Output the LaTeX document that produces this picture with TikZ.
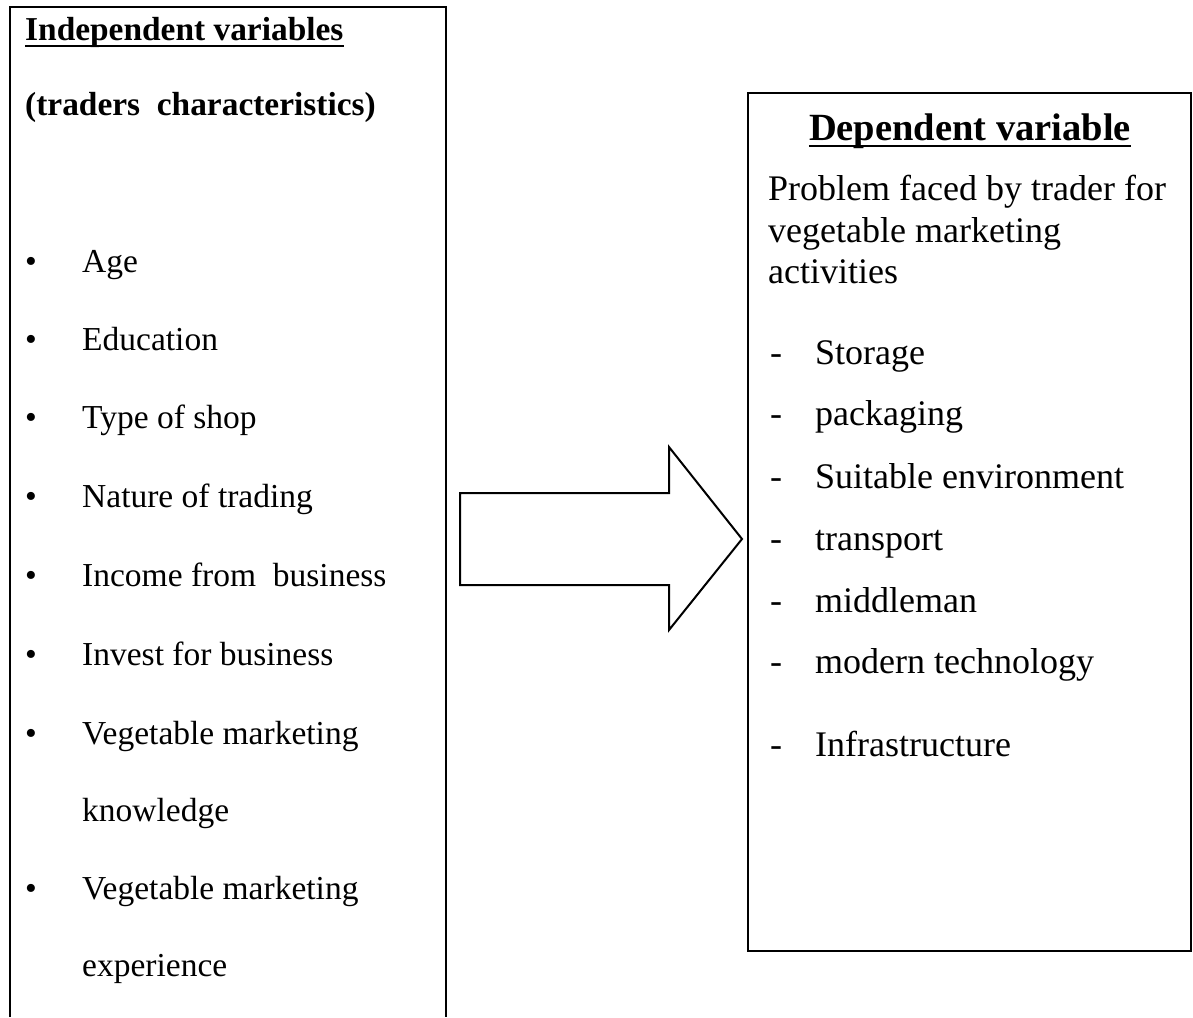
\documentclass[tikz,border=0pt]{standalone}
\usepackage{fontspec}
\setmainfont{Liberation Serif}
\usetikzlibrary{positioning}

\tikzset{
  frame/.style={line width=2pt},
  leftitem/.style={anchor=base west, inner sep=0pt, font=\fontsize{33.5}{40}\selectfont},
  rightitem/.style={anchor=base west, inner sep=0pt, font=\fontsize{36}{42}\selectfont},
  lefthead/.style={leftitem, font=\fontsize{33.4}{40}\selectfont\bfseries},
  righthead/.style={rightitem, anchor=base, font=\fontsize{38.5}{44}\selectfont\bfseries},
  headline/.style={line width=2.5pt},
}

\begin{document}
\begin{tikzpicture}[x=1pt, y=-1pt]
  \useasboundingbox (0,0) rectangle (1193,1017);

  % frames (the left one runs off the page)
  \draw[frame] (10,1017) -- (10,7) -- (446,7) -- (446,1017);
  \draw[frame] (748,93) rectangle (1191,951);

  % independent side
  \node[lefthead] (indep) at (25,40) {Independent variables};
  \draw[headline] ([yshift=-6pt]indep.base west) -- ([yshift=-6pt]indep.base east);
  \node[lefthead] (traits) at (25,115) {(traders\ \ characteristics)};

  \foreach \y/\txt [count=\i] in {272/Age, 350/Education, 428/Type of shop,
      507/Nature of trading, 586/Income from\ \ business, 665/Invest for business,
      744/Vegetable marketing, 899/Vegetable marketing} {
    \node[leftitem] (dot\i) at (25,\y) {\textbullet};
    \node[leftitem] (trait\i) at (82,\y) {\txt};
  }
  \node[leftitem] (trait7b) at (82,821) {knowledge};
  \node[leftitem] (trait8b) at (82,976) {experience};

  % dependent side
  \node[righthead] (dep) at (970,140) {Dependent variable};
  \draw[headline] ([yshift=-6pt]dep.base west) -- ([yshift=-6pt]dep.base east);
  \node[rightitem] (prob1) at (768,200) {Problem faced by trader for};
  \node[rightitem] (prob2) at (768,242) {vegetable marketing};
  \node[rightitem] (prob3) at (768,283) {activities};

  \foreach \y/\txt [count=\i] in {364/Storage, 425/packaging, 488/Suitable environment,
      550/transport, 612/middleman, 673/modern technology, 756/Infrastructure} {
    \node[rightitem] (dash\i) at (770,\y) {-};
    \node[rightitem] (issue\i) at (815,\y) {\txt};
  }

  % block arrow between the two sides
  \coordinate (tail) at (460,539);
  \coordinate (tip) at (742,539);
  \draw[line width=2pt, line join=miter]
    (tail |- 0,493) -- (669,493) -- (669,447) -- (tip)
    -- (669,630) -- (669,585) -- (tail |- 0,585) -- cycle;
\end{tikzpicture}
\end{document}
